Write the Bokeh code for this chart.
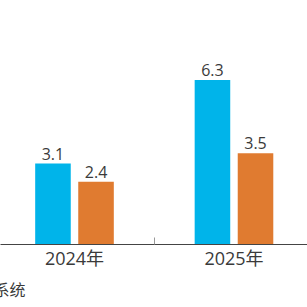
from bokeh.plotting import figure
from bokeh.models import ColumnDataSource, FixedTicker, Range1d, Title
from bokeh.core.properties import value
from bokeh.embed import file_html
from bokeh.resources import INLINE
import numpy as np

years = ["2024年", "2025年"]
series_a = [3.1, 6.3]   # blue
series_b = [2.4, 3.5]   # orange
note_text = "系统"

BLUE = "#00B4EA"
ORANGE = "#E07B30"
TXT = "#3a3a3a"
FONT = "'Open Sans', 'Noto Sans CJK SC', sans-serif"

idx = np.arange(len(years))
off = 0.135
bw = 0.223

src_a = ColumnDataSource(dict(x=idx - off, top=series_a, lab=[f"{v:.1f}" for v in series_a]))
src_b = ColumnDataSource(dict(x=idx + off, top=series_b, lab=[f"{v:.1f}" for v in series_b]))

p = figure(width=307, height=307, output_backend="svg", toolbar_location=None,
           x_range=Range1d(-0.464, 1.461), y_range=Range1d(0, 9.35),
           y_axis_location=None, min_border_left=0, min_border_right=0,
           min_border_top=0, min_border_bottom=63)
p.outline_line_color = None
p.grid.visible = False
p.background_fill_color = "white"
p.border_fill_color = "white"

p.vbar(x="x", top="top", width=bw, bottom=0, source=src_a, fill_color=BLUE, line_color=None)
p.vbar(x="x", top="top", width=bw, bottom=0, source=src_b, fill_color=ORANGE, line_color=None)

for s in (src_a, src_b):
    p.text(x="x", y="top", text="lab", source=s, text_align="center", text_baseline="bottom",
           y_offset=-4, text_font=value(FONT), text_font_size="16px", text_color=TXT)

ax = p.xaxis[0]
ax.ticker = FixedTicker(ticks=list(idx), minor_ticks=list(np.arange(-0.5, len(years) + 0.5, 1.0)))
ax.major_label_overrides = {int(i): y for i, y in zip(idx, years)}
ax.major_tick_line_color = None
ax.major_tick_out = 0
ax.major_tick_in = 0
ax.minor_tick_in = 7
ax.minor_tick_out = 0
ax.minor_tick_line_color = "#999999"
ax.axis_line_color = "#444444"
ax.axis_line_width = 1.2
ax.major_label_text_font = FONT
ax.major_label_text_font_size = "18px"
ax.major_label_text_color = TXT
ax.major_label_standoff = 1

p.add_layout(Title(text=note_text, align="left", offset=-7, standoff=8,
                   text_font=FONT, text_font_size="16px", text_color=TXT,
                   text_font_style="normal"), "below")

open("out.html", "w").write(file_html(p, INLINE))
